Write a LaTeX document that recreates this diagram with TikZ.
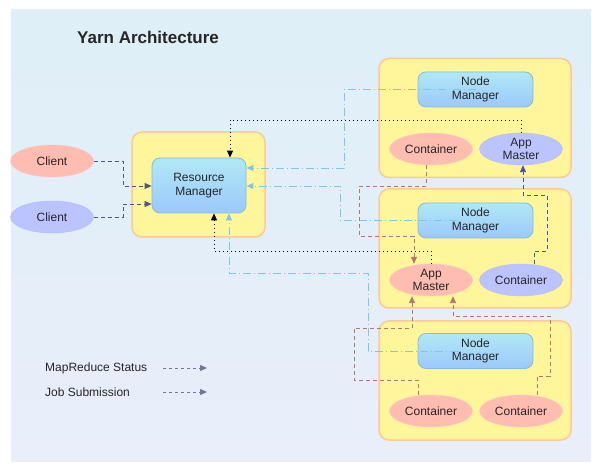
\documentclass[tikz,border=0pt]{standalone}
\usepackage{fontspec}
\setmainfont{Liberation Sans}
\usetikzlibrary{arrows.meta,shapes.geometric}

\definecolor{bgtop}{RGB}{222,239,247}
\definecolor{bgbot}{RGB}{233,238,250}
\definecolor{hostfill}{RGB}{255,245,155}
\definecolor{hostline}{RGB}{255,200,150}
\definecolor{mgrtop}{RGB}{176,232,246}
\definecolor{mgrbot}{RGB}{156,200,252}
\definecolor{mgrline}{RGB}{136,187,216}
\definecolor{pinkfill}{RGB}{255,188,176}
\definecolor{pinkline}{RGB}{255,196,204}
\definecolor{bluefill}{RGB}{188,196,255}
\definecolor{blueline}{RGB}{178,188,250}
\definecolor{beatline}{RGB}{128,200,224}
\definecolor{redline}{RGB}{176,120,112}
\definecolor{jobline}{RGB}{70,85,170}
\definecolor{slateline}{RGB}{85,85,119}

\tikzset{
  host/.style={draw=hostline, line width=1.5pt, fill=hostfill, rounded corners=10pt,
    minimum width=192pt, minimum height=119pt, inner sep=0pt},
  manager/.style={draw=mgrline, line width=0.8pt, top color=mgrtop, bottom color=mgrbot,
    rounded corners=8pt, minimum width=115pt, minimum height=35pt, inner sep=0pt, align=center},
  pinknode/.style={ellipse, draw=pinkline, fill=pinkfill, minimum width=83pt,
    minimum height=32pt, inner sep=0pt, align=center},
  bluenode/.style={ellipse, draw=blueline, fill=bluefill, minimum width=83pt,
    minimum height=32pt, inner sep=0pt, align=center},
  headed/.style={-{Triangle[length=7pt,width=6pt]}},
  submit/.style={slateline, line width=0.9pt, dash pattern=on 4pt off 3pt, headed},
  beat/.style={beatline, line width=0.9pt, dash pattern=on 8pt off 3pt on 1pt off 3pt, headed},
  status/.style={black, line width=0.9pt, dash pattern=on 1pt off 3pt, headed},
  reddash/.style={redline, line width=0.9pt, dash pattern=on 4pt off 3pt, headed},
  bluedash/.style={jobline, line width=0.9pt, dash pattern=on 4pt off 3pt, headed},
  legend/.style={slateline!80, line width=0.9pt, dash pattern=on 3pt off 3pt, headed}
}

\begin{document}
\begin{tikzpicture}[x=1pt, y=-1pt,
    every node/.style={font=\fontsize{12}{13.5}\selectfont, text=black!85}]
    \useasboundingbox (0,0) rectangle (600,470);
    \fill[top color=bgtop, bottom color=bgbot] (11,10) rectangle (591,461);

    \node[anchor=west, inner sep=0pt, font=\fontsize{17}{20}\selectfont\bfseries] (title) at (77,37) {Yarn Architecture};

    % clients and resource manager
    \node[pinknode] (cl1) at (52,161) {Client};
    \node[bluenode] (cl2) at (52,217) {Client};
    \node[host, minimum width=133pt, minimum height=105pt] (rmhost) at (198.5,184.5) {};
    \node[manager, minimum width=94pt, minimum height=55pt] (rm) at (199,185.5) {Resource\\Manager};

    % node managers
    \node[host] (nmhost1) at (475,118) {};
    \node[manager] (nm1) at (475.5,89.5) {Node\\Manager};
    \node[pinknode] (c1) at (431,149) {Container};
    \node[bluenode] (am1) at (521,149) {App\\Master};

    \node[host] (nmhost2) at (475,248.5) {};
    \node[manager] (nm2) at (475.5,220.5) {Node\\Manager};
    \node[pinknode] (am2) at (431,280) {App\\Master};
    \node[bluenode] (c2) at (521,280) {Container};

    \node[host] (nmhost3) at (475,380.5) {};
    \node[manager] (nm3) at (475.5,351) {Node\\Manager};
    \node[pinknode] (c3) at (431,411) {Container};
    \node[pinknode] (c4) at (521,411) {Container};

    % job submission
    \draw[submit] (cl1.east) -| (123,186) -- (rm.west |- 0,186);
    \draw[submit] (cl2.east) -| (123,204) -- (rm.west |- 0,204);

    % node status
    \draw[beat] (nm1.center) -| (344,168) -- (rm.east |- 0,168);
    \draw[beat] (nm2.center -| 457,0) -| (340,186) -- (rm.east |- 0,186);
    \draw[beat] (nm3.center -| 458,0) -| (368,273) -| (rm.south -| 229,0);

    % app status
    \draw[status] (am1.north) |- (230,120) -- (rm.north -| 230,0);
    \draw[status] (am2.north) |- (214,251) -- (rm.south -| 214,0);

    % containers to app masters
    \draw[reddash] (c1.south -| 426,0) -- (426,186) -| (359,236) -| (am2.north -| 414,0);
    \draw[bluedash] (c2.north -| 534,0) |- (547,251) |- (523,195) -- (am1.south -| 523,0);
    \draw[reddash] (c3.north -| 418,0) |- (354,380) |- (412,328) -- (am2.south -| 412,0);
    \draw[reddash] (c4.north -| 537,0) |- (550,376) |- (453,316) -- (am2.south -| 453,0);

    % legend
    \node[anchor=west, inner sep=0pt] (mrs) at (45,368) {MapReduce Status};
    \node[anchor=west, inner sep=0pt] (jobs) at (45,392) {Job Submission};
    \draw[legend] (mrs.east -| 163,0) -- (mrs.east -| 207,0);
    \draw[legend] (jobs.east -| 163,0) -- (jobs.east -| 207,0);
\end{tikzpicture}
\end{document}
